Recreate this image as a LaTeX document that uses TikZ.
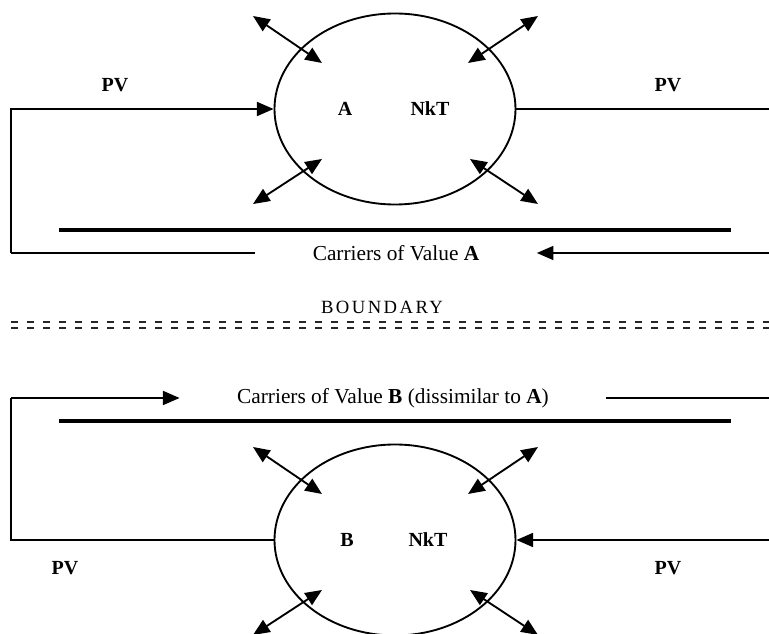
\documentclass[tikz,border=0pt]{standalone}
\usepackage{fontspec}
\setmainfont{Liberation Serif}
\usetikzlibrary{arrows.meta,shapes.geometric}
\tikzset{
  cell/.style={draw,ellipse,line width=1.4pt,minimum width=180.75pt,minimum height=143.25pt,inner sep=0pt},
  tag/.style={font=\fontsize{15}{18}\selectfont\bfseries},
  carrier/.style={font=\fontsize{16}{19}\selectfont,inner xsep=43pt,inner ysep=0pt},
  link/.style={line width=1.4pt},
  flow/.style={line width=1.4pt,-{Triangle[length=12.5pt,width=10.5pt]}},
  swap/.style={line width=1.4pt,{Triangle[length=12.5pt,width=10.5pt]}-{Triangle[length=12.5pt,width=10.5pt]}},
  wall/.style={line width=2.9pt},
  border/.style={line width=1.8pt,black!85,dash pattern=on 5.5pt off 6.5pt}
}
\begin{document}
\begin{tikzpicture}[x=0.75pt,y=-0.75pt]
  \useasboundingbox (0,0) rectangle (769,634);
  % upper side
  \node[cell] (cellA) at (395,109) {};
  \node[tag] (nameA) at (345,109) {A};
  \node[tag] (nktA) at (430,109) {NkT};
  \node[tag] (pvA1) at (115,85) {PV};
  \node[tag] (pvA2) at (668,85) {PV};
  \node[carrier] (carA) at (396,253) {Carriers of Value \textbf{A}};
  \coordinate (inA) at (11,109); \coordinate (cornA) at (11,253);
  \coordinate (outA) at (769,109); \coordinate (backA) at (769,253);
  \coordinate (wallA1) at (59,230); \coordinate (wallA2) at (731,230);
  \draw[flow] (cornA) -- (inA) -- (cellA.west);
  \draw[link] (cornA) -- (carA.west);
  \draw[link] (cellA.east) -- (outA);
  \draw[flow] (backA) -- (carA.east);
  \draw[wall] (wallA1) -- (wallA2);
  % boundary
  \node[font=\fontsize{14}{16}\selectfont\addfontfeature{LetterSpace=13}] (bound) at (382,307) {BOUNDARY};
  \coordinate (bnd1) at (11,322); \coordinate (bnd2) at (769,322);
  \coordinate (bnd3) at (11,328); \coordinate (bnd4) at (769,328);
  \draw[border] (bnd1) -- (bnd2);
  \draw[border] (bnd3) -- (bnd4);
  % lower side
  \node[cell] (cellB) at (395,540) {};
  \node[tag] (nameB) at (347,540) {B};
  \node[tag] (nktB) at (428,540) {NkT};
  \node[tag] (pvB1) at (65,568) {PV};
  \node[tag] (pvB2) at (668,568) {PV};
  \node[carrier] (carB) at (393,398) {Carriers of Value \textbf{B} (dissimilar to \textbf{A})};
  \coordinate (inB) at (11,540); \coordinate (cornB) at (11,398);
  \coordinate (outB) at (769,540); \coordinate (backB) at (769,398);
  \coordinate (wallB1) at (59,421); \coordinate (wallB2) at (731,421);
  \draw[link] (cellB.west) -- (inB) -- (cornB);
  \draw[flow] (cornB) -- (carB.west);
  \draw[link] (carB.east) -- (backB);
  \draw[flow] (outB) -- (cellB.east);
  \draw[wall] (wallB1) -- (wallB2);
  % exchange arrows round each cell
  \foreach \c in {cellA,cellB}{
    \foreach \n/\xa/\ya/\xb/\yb in {ul/-142/-93/-73/-46,ur/143/-93/73/-46,ll/-142/95/-73/50,lr/143/95/75/50}{
      \coordinate (\c-\n-out) at ([shift={(\xa,\ya)}]\c.center);
      \coordinate (\c-\n-in) at ([shift={(\xb,\yb)}]\c.center);
      \draw[swap] (\c-\n-out) -- (\c-\n-in);
    }
  }
\end{tikzpicture}
\end{document}
